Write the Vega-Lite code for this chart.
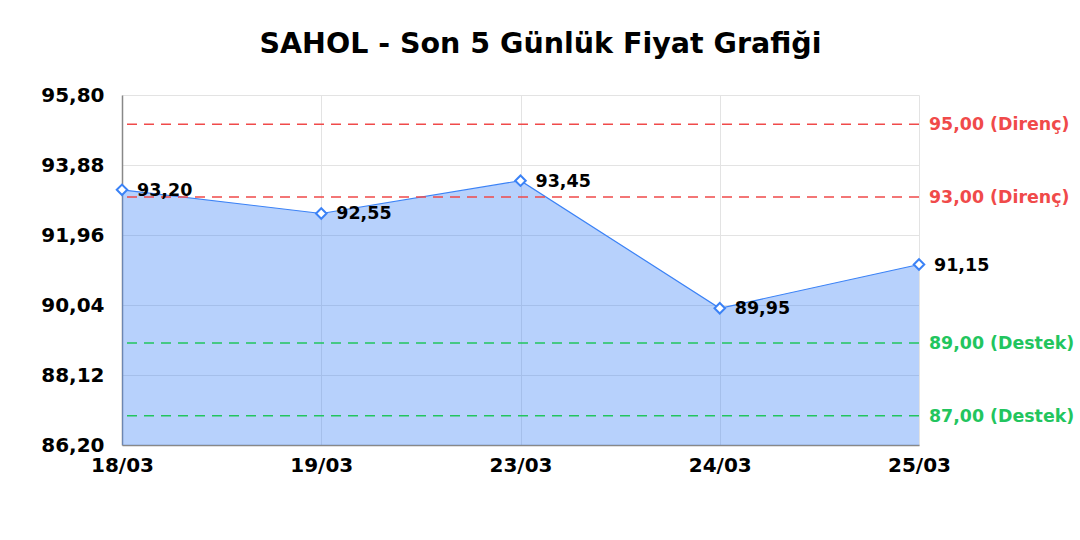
{
  "$schema": "https://vega.github.io/schema/vega-lite/v6.json",
  "width": 797,
  "height": 350,
  "autosize": "none",
  "padding": {"left": 122, "top": 95, "right": 161, "bottom": 95},
  "background": "white",
  "title": {
    "text": "SAHOL - Son 5 Günlük Fiyat Grafiği",
    "font": "DejaVu Sans",
    "fontSize": 28.5,
    "fontWeight": "bold",
    "color": "#000000",
    "anchor": "middle",
    "dx": 20,
    "offset": 27
  },
  "config": {
    "locale": {"number": {"decimal": ",", "thousands": ".", "grouping": [3], "currency": ["", " TL"]}},
    "view": {"stroke": null},
    "axis": {
      "labelFont": "DejaVu Sans",
      "labelFontWeight": "bold",
      "labelColor": "#000000",
      "labelFontSize": 20,
      "gridColor": "#e3e3e3",
      "gridWidth": 1,
      "domainColor": "#888888",
      "domainWidth": 1.5,
      "ticks": false,
      "title": null
    }
  },
  "layer": [
    {
      "data": {"name": "prices", "values": [
        {"date": "18/03", "price": 93.20},
        {"date": "19/03", "price": 92.55},
        {"date": "23/03", "price": 93.45},
        {"date": "24/03", "price": 89.95},
        {"date": "25/03", "price": 91.15}
      ]},
      "mark": {"type": "area", "color": "#3b82f6", "opacity": 0.37, "line": false, "clip": true},
      "encoding": {
        "x": {"field": "date", "type": "ordinal", "sort": null,
              "scale": {"type": "point", "padding": 0},
              "axis": {"labelAngle": 0, "labelPadding": 10, "grid": true, "labelFontSize": 20}},
        "y": {"field": "price", "type": "quantitative",
              "scale": {"domain": [86.2, 95.8], "zero": false, "nice": false},
              "axis": {"values": [86.2, 88.12, 90.04, 91.96, 93.88, 95.8], "format": ".2f", "labelPadding": 18, "grid": true}}
      }
    },
    {
      "data": {"name": "prices"},
      "mark": {"type": "line", "color": "#3b82f6", "strokeWidth": 1.2},
      "encoding": {
        "x": {"field": "date", "type": "ordinal", "sort": null},
        "y": {"field": "price", "type": "quantitative"}
      }
    },
    {
      "data": {"values": [
        {"level": 95, "kind": "Direnç", "label": "95,00 (Direnç)", "date": "25/03"},
        {"level": 93, "kind": "Direnç", "label": "93,00 (Direnç)", "date": "25/03"},
        {"level": 89, "kind": "Destek", "label": "89,00 (Destek)", "date": "25/03"},
        {"level": 87, "kind": "Destek", "label": "87,00 (Destek)", "date": "25/03"}
      ]},
      "layer": [
        {
          "mark": {"type": "rule", "strokeDash": [10, 7], "strokeWidth": 1.5},
          "encoding": {
            "y": {"field": "level", "type": "quantitative"},
            "color": {"field": "kind", "type": "nominal",
                      "scale": {"domain": ["Direnç", "Destek"], "range": ["#f04a4a", "#22c55e"]},
                      "legend": null}
          }
        },
        {
          "mark": {"type": "text", "align": "left", "baseline": "middle", "dx": 10, "dy": 1,
                   "font": "DejaVu Sans", "fontWeight": "bold", "fontSize": 17.4},
          "encoding": {
            "x": {"field": "date", "type": "ordinal"},
            "y": {"field": "level", "type": "quantitative"},
            "text": {"field": "label"},
            "color": {"field": "kind", "type": "nominal", "legend": null}
          }
        }
      ]
    },
    {
      "data": {"name": "prices"},
      "mark": {"type": "point", "shape": "diamond", "filled": true, "fill": "white", "stroke": "#3b82f6", "strokeWidth": 2, "size": 110, "opacity": 1},
      "encoding": {
        "x": {"field": "date", "type": "ordinal", "sort": null},
        "y": {"field": "price", "type": "quantitative"}
      }
    },
    {
      "data": {"name": "prices"},
      "mark": {"type": "text", "align": "left", "baseline": "middle", "dx": 15, "dy": 1,
               "font": "DejaVu Sans", "fontWeight": "bold", "fontSize": 17.5, "color": "#000000"},
      "encoding": {
        "x": {"field": "date", "type": "ordinal", "sort": null},
        "y": {"field": "price", "type": "quantitative"},
        "text": {"field": "price", "type": "quantitative", "format": ".2f"}
      }
    }
  ]
}
